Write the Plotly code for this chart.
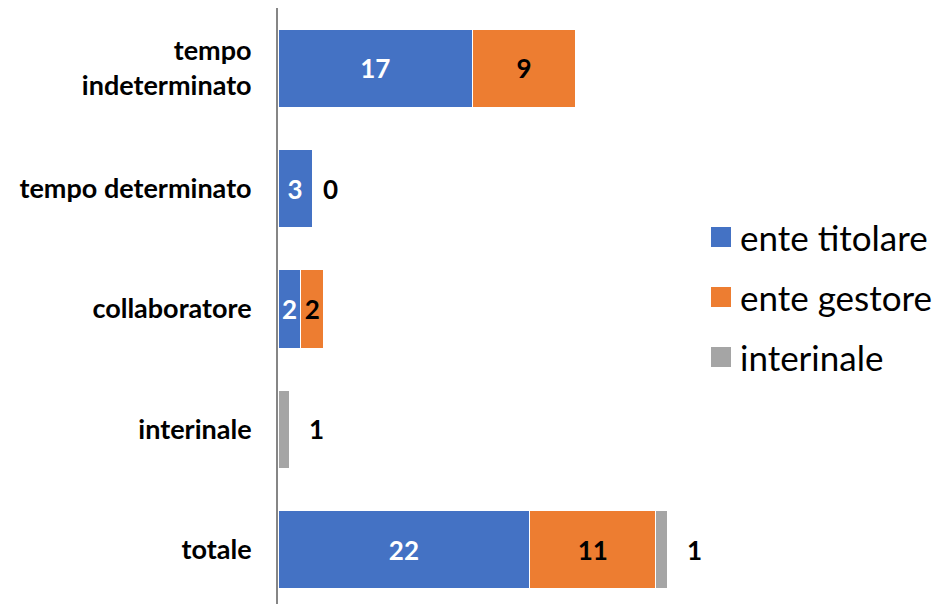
import plotly.graph_objects as go

categories = ["tempo<br>indeterminato", "tempo determinato", "collaboratore", "interinale", "totale"]
ente_titolare = [17, 3, 2, 0, 22]
ente_gestore = [9, 0, 2, 0, 11]
interinale = [0, 0, 0, 1, 1]
series_names = ["ente titolare", "ente gestore", "interinale"]
colors = ["#4472C4", "#ED7D31", "#A5A5A5"]

FONT = "Lato, Open Sans, sans-serif"
LBL = 26

fig = go.Figure()

def inside_text(vals):
    return [str(v) if v > 0 else "" for v in vals]

fig.add_trace(go.Bar(
    y=categories, x=ente_titolare, orientation="h", name=series_names[0],
    marker=dict(color=colors[0], line=dict(color="white", width=1)),
    text=inside_text(ente_titolare), textposition="inside", insidetextanchor="middle",
    textfont=dict(color="white", size=LBL, family=FONT, weight="bold"),
    showlegend=False, hoverinfo="x+name"))
fig.add_trace(go.Bar(
    y=categories, x=ente_gestore, orientation="h", name=series_names[1],
    marker=dict(color=colors[1], line=dict(color="white", width=1)),
    text=inside_text(ente_gestore), textposition="inside", insidetextanchor="middle",
    textfont=dict(color="black", size=LBL, family=FONT, weight="bold"),
    showlegend=False, hoverinfo="x+name"))
fig.add_trace(go.Bar(
    y=categories, x=interinale, orientation="h", name=series_names[2],
    marker=dict(color=colors[2], line=dict(color="white", width=1)),
    showlegend=False, hoverinfo="x+name"))

annotations = []
for i, c in enumerate(categories):
    if ente_gestore[i] == 0 and ente_titolare[i] > 0:
        annotations.append(dict(x=ente_titolare[i] + ente_gestore[i], y=c, xref="x", yref="y",
                                text="0", showarrow=False, xanchor="left", xshift=9,
                                font=dict(size=LBL, family=FONT, color="black", weight="bold")))
    if interinale[i] > 0:
        annotations.append(dict(x=ente_titolare[i] + ente_gestore[i] + interinale[i], y=c,
                                xref="x", yref="y", text=str(interinale[i]), showarrow=False,
                                xanchor="left", xshift=18,
                                font=dict(size=LBL, family=FONT, color="black", weight="bold")))

shapes = []
legend_y = [237, 297, 357]
for name, col, yy in zip(series_names, colors, legend_y):
    yc = 1 - (yy - 8) / 596
    shapes.append(dict(type="rect", xref="paper", yref="paper",
                       x0=(711 - 278) / 420, x1=(731 - 278) / 420,
                       y0=yc - 10 / 596, y1=yc + 10 / 596,
                       fillcolor=col, line=dict(width=0)))
    annotations.append(dict(x=(738 - 278) / 420, y=yc, xref="paper", yref="paper",
                            text=name, showarrow=False, xanchor="left", yanchor="middle",
                            font=dict(size=35, family=FONT, color="black")))

fig.update_layout(
    barmode="stack",
    bargap=0.35,
    width=937, height=604,
    margin=dict(l=278, r=239, t=8, b=0),
    paper_bgcolor="white", plot_bgcolor="white",
    uniformtext=dict(minsize=LBL, mode="show"),
    xaxis=dict(range=[0, 36.7], visible=False, showgrid=False, zeroline=False),
    yaxis=dict(autorange=False, range=[4.45, -0.5], showline=True, linecolor="#868686",
               linewidth=2, ticks="", showgrid=False, ticklabelstandoff=19,
               tickfont=dict(size=27, family=FONT, color="black", weight="bold")),
    annotations=annotations, shapes=shapes,
    showlegend=False,
)

fig.write_html("out.html")
